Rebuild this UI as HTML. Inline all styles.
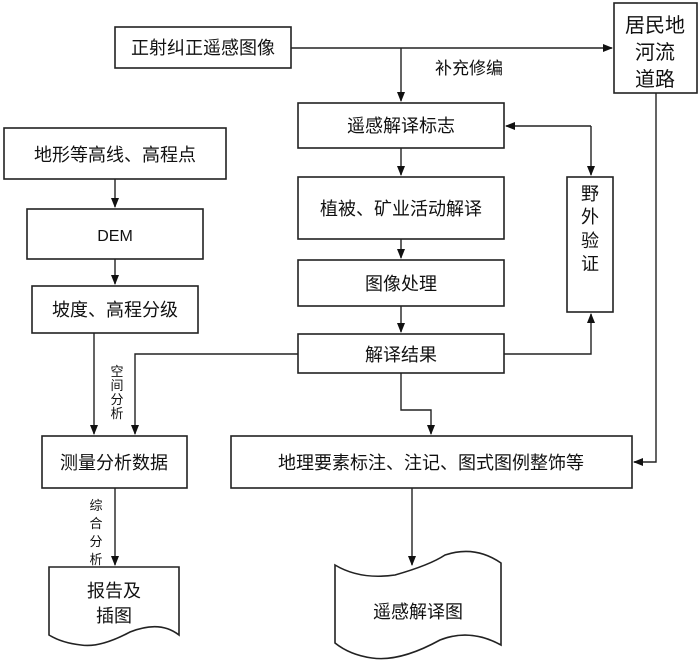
<!DOCTYPE html>
<html><head><meta charset="utf-8"><style>
html,body{margin:0;padding:0;background:#fff;overflow:hidden}
svg text{font-family:"Liberation Sans","Noto Sans CJK SC",sans-serif;fill:#111}
</style></head><body>
<svg width="700" height="663" viewBox="0 0 700 663" xmlns="http://www.w3.org/2000/svg">
<defs><marker id="a" markerWidth="10" markerHeight="10" refX="9" refY="5" orient="auto" markerUnits="userSpaceOnUse"><path d="M0,1 L10,5 L0,9 Z" fill="#111"/></marker></defs>
<g fill="none" stroke="#222" stroke-width="1.6">
<rect x="115" y="27" width="176" height="41"/>
<rect x="614" y="3" width="83" height="90"/>
<rect x="298" y="103" width="206" height="45"/>
<rect x="4" y="128" width="222" height="51"/>
<rect x="27" y="209" width="176" height="50"/>
<rect x="32" y="286" width="166" height="47"/>
<rect x="298" y="177" width="206" height="62"/>
<rect x="298" y="260" width="206" height="46"/>
<rect x="298" y="334" width="206" height="39"/>
<rect x="567" y="177" width="46" height="135"/>
<rect x="231" y="436" width="401" height="52"/>
<rect x="42" y="436" width="145" height="52"/>
<path d="M335,565 Q360,580 395,575 Q430,565 445,555 Q475,545 501,563 L501,645 Q470,628 440,640 Q400,662 372,658 Q350,655 335,643 Z"/>
<path d="M49,567 L179,567 L179,635 Q160,620 130,632 Q100,648 81,645 Q62,643 49,635 Z"/>
</g>
<g fill="none" stroke="#222" stroke-width="1.4">
<path d="M291,48 L612,48" marker-end="url(#a)"/>
<path d="M401,48 L401,101" marker-end="url(#a)"/>
<path d="M401,148 L401,175" marker-end="url(#a)"/>
<path d="M401,239 L401,258" marker-end="url(#a)"/>
<path d="M401,306 L401,332" marker-end="url(#a)"/>
<path d="M591,126 L591,175" marker-end="url(#a)"/>
<path d="M591,126 L506,126" marker-end="url(#a)"/>
<path d="M504,354 L591,354 L591,314" marker-end="url(#a)"/>
<path d="M115,179 L115,207" marker-end="url(#a)"/>
<path d="M115,259 L115,284" marker-end="url(#a)"/>
<path d="M94,333 L94,434" marker-end="url(#a)"/>
<path d="M298,354 L135,354 L135,434" marker-end="url(#a)"/>
<path d="M656,93 L656,462 L634,462" marker-end="url(#a)"/>
<path d="M401,373 L401,410 L431,410 L431,434" marker-end="url(#a)"/>
<path d="M412,488 L412,565" marker-end="url(#a)"/>
<path d="M115,488 L115,565" marker-end="url(#a)"/>
</g>
<g font-size="18" text-anchor="middle">
<text x="203" y="54">正射纠正遥感图像</text>
<text x="469" y="74" font-size="17">补充修编</text>
<text x="401" y="132">遥感解译标志</text>
<text x="115" y="161">地形等高线、高程点</text>
<text x="115" y="241" font-size="16">DEM</text>
<text x="115" y="316">坡度、高程分级</text>
<text x="401" y="215">植被、矿业活动解译</text>
<text x="401" y="290">图像处理</text>
<text x="401" y="361">解译结果</text>
<text x="431" y="469">地理要素标注、注记、图式图例整饰等</text>
<text x="114" y="469">测量分析数据</text>
<text x="418" y="618">遥感解译图</text>
<text x="114" y="597">报告及</text>
<text x="114" y="622">插图</text>
<text x="655" y="32" font-size="20">居民地</text>
<text x="655" y="59" font-size="20">河流</text>
<text x="655" y="86" font-size="20">道路</text>
<text x="590" y="200">野</text>
<text x="590" y="223">外</text>
<text x="590" y="247">验</text>
<text x="590" y="270">证</text>
<g font-size="13">
<text x="117" y="376">空</text><text x="117" y="390">间</text><text x="117" y="404">分</text><text x="117" y="418">析</text>
<text x="96" y="510">综</text><text x="96" y="528">合</text><text x="96" y="546">分</text><text x="96" y="564">析</text>
</g>
</g>
</svg>
</body></html>
